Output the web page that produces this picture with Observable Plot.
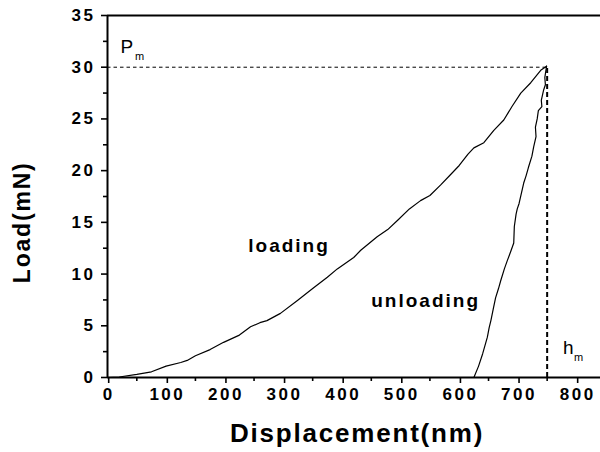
<!DOCTYPE html>
<html>
<head>
<meta charset="utf-8">
<script src="https://cdn.jsdelivr.net/npm/d3@7"></script>
<script src="https://cdn.jsdelivr.net/npm/@observablehq/plot@0.6"></script>
<style>
  html, body { margin: 0; padding: 0; background: #fff; }
  svg g[aria-label="x-axis tick label"] text,
  svg g[aria-label="y-axis tick label"] text { letter-spacing: 2.5px; }
  svg g.anno text { letter-spacing: 2px; }
  svg g.title text { letter-spacing: 1.8px; }
</style>
</head>
<body>
<div id="chart"></div>
<script>
// Loading curve (displacement nm, load mN)
const loadingDisp = [0, 20, 50, 75, 100, 125, 136, 150, 175, 198, 225, 244, 260, 272, 295, 324, 350, 375, 392, 420, 432, 460, 478, 495, 515, 534, 550, 568, 585, 600, 615, 625, 642, 659, 676, 690, 705, 722, 739, 749];
const loadingLoad = [0, 0.05, 0.3, 0.55, 1.1, 1.45, 1.65, 2.1, 2.7, 3.4, 4.1, 4.9, 5.3, 5.5, 6.2, 7.45, 8.6, 9.7, 10.5, 11.6, 12.3, 13.6, 14.3, 15.2, 16.3, 17.1, 17.6, 18.6, 19.6, 20.5, 21.6, 22.2, 22.7, 23.9, 24.9, 26.2, 27.5, 28.5, 29.7, 30.1];

// Unloading curve
const unloadingDisp = [749, 746, 747, 744, 740, 741, 735, 733, 730, 731, 727, 724, 718, 714, 710, 706, 702, 699, 697, 694, 693, 688, 682, 677, 671, 667, 662, 658, 654, 651, 648, 644, 640, 633, 625];
const unloadingLoad = [30.1, 29.0, 28.3, 27.8, 26.8, 26.2, 25.8, 25.0, 24.2, 23.3, 22.3, 21.4, 20.3, 19.5, 18.8, 17.8, 16.8, 16.3, 15.8, 14.6, 13.0, 12.2, 11.3, 10.5, 9.4, 8.6, 7.7, 6.6, 5.5, 4.8, 3.9, 3.1, 2.3, 1.1, 0];

// Peak markers
const peakDisp = 750;
const peakLoad = 30;

// Axis ticks
const xTicks = [0, 100, 200, 300, 400, 500, 600, 700, 800];
const xMinorTicks = [50, 150, 250, 350, 450, 550, 650, 750];
const yTicks = [0, 5, 10, 15, 20, 25, 30, 35];
const yMinorTicks = [2.5, 7.5, 12.5, 17.5, 22.5, 27.5, 32.5];

const loading = loadingDisp.map((d, i) => ({x: d, y: loadingLoad[i]}));
const unloading = unloadingDisp.map((d, i) => ({x: d, y: unloadingLoad[i]}));

const font = "'Liberation Sans', Arial, sans-serif";

const chart = Plot.plot({
  width: 600,
  height: 452,
  marginLeft: 107,
  marginRight: 0,
  marginTop: 15,
  marginBottom: 75,
  style: {fontFamily: font, fontWeight: "bold", fontSize: "17px", color: "#000", background: "#fff", overflow: "visible"},
  x: {domain: [0, 841]},
  y: {domain: [0, 35]},
  marks: [
    // frame: top, left, bottom
    Plot.ruleY([35], {stroke: "#000", strokeWidth: 2}),
    Plot.ruleX([0], {stroke: "#000", strokeWidth: 2}),
    Plot.ruleY([0], {stroke: "#000", strokeWidth: 2}),
    // axes
    Plot.axisX({ticks: xTicks, tickSize: 6, tickPadding: 4, label: null, tickFormat: d => d, strokeWidth: 1.6, fontSize: 17, fontWeight: "bold", dx: 1.2}),
    Plot.axisX({ticks: xMinorTicks, tickSize: 4, tickFormat: () => "", label: null, strokeWidth: 1.6}),
    Plot.axisY({ticks: yTicks, tickSize: 6, tickPadding: 6, label: null, tickFormat: d => d, strokeWidth: 1.6, fontSize: 17, fontWeight: "bold"}),
    Plot.axisY({ticks: yMinorTicks, tickSize: 4, tickFormat: () => "", label: null, strokeWidth: 1.6}),
    // dashed peak lines
    Plot.ruleY([peakLoad], {x1: 0, x2: peakDisp, stroke: "#000", strokeWidth: 1, strokeDasharray: "3.5,3"}),
    Plot.ruleX([peakDisp], {y1: 0, y2: peakLoad, stroke: "#000", strokeWidth: 2, strokeDasharray: "5,3"}),
    // curves
    Plot.line(loading, {x: "x", y: "y", stroke: "#000", strokeWidth: 1.2}),
    Plot.line(unloading, {x: "x", y: "y", stroke: "#000", strokeWidth: 1.2}),
    // annotations
    Plot.text(["loading"], {x: 308, y: 12.7, text: d => d, fontSize: 19, fontWeight: "bold", fontFamily: font, className: "anno", dx: 1}),
    Plot.text(["unloading"], {x: 541, y: 7.4, text: d => d, fontSize: 19, fontWeight: "bold", fontFamily: font, className: "anno", dx: 1}),
    Plot.text(["P"], {x: 22, y: 32.0, text: d => d, fontSize: 19, fontWeight: "normal", fontFamily: font, textAnchor: "start"}),
    Plot.text(["m"], {x: 47, y: 31.05, text: d => d, fontSize: 11, fontWeight: "normal", fontFamily: font, textAnchor: "start"}),
    Plot.text(["h"], {x: 777, y: 2.9, text: d => d, fontSize: 19, fontWeight: "normal", fontFamily: font, textAnchor: "start"}),
    Plot.text(["m"], {x: 796, y: 1.95, text: d => d, fontSize: 11, fontWeight: "normal", fontFamily: font, textAnchor: "start"}),
    // axis titles
    Plot.text(["Displacement(nm)"], {x: 424, y: 0, text: d => d, dy: 56, dx: 1, fontSize: 26, fontWeight: "bold", fontFamily: font, className: "title"}),
    Plot.text(["Load(mN)"], {x: 0, y: 15.0, text: d => d, rotate: -90, dx: -85, fontSize: 23, fontWeight: "bold", fontFamily: font, className: "title"})
  ]
});
document.getElementById("chart").appendChild(chart);
</script>
</body>
</html>
